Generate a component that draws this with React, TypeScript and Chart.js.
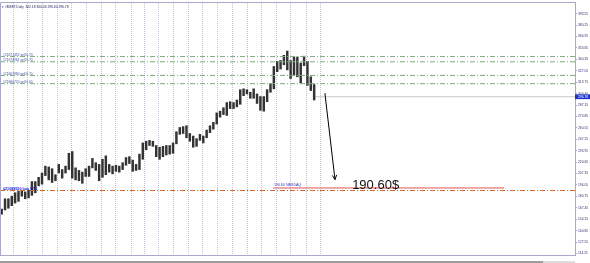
import React, { useEffect, useRef } from 'react';
import { Chart, registerables } from 'chart.js';

Chart.register(...registerables);

// ---------- data ----------
const SYMBOL_TITLE = '\u25BE #MSFT,Daily  302.18 304.06 296.60 296.78';
const FIRST_WEEK_ISO = '2020-04-06';

// weekly low / high, one entry per trading week from 6 Apr 2020 to 17 Jan 2022
const weeklyLow = [
  160, 165, 167, 170, 173, 175, 181, 178, 179, 182,
  185, 193, 195, 205, 200, 197, 199, 208, 202, 208,
  212, 202, 200, 199, 196, 204, 204, 214, 211, 199,
  203, 206, 209, 207, 210, 209, 212, 217, 219, 210,
  211, 212, 224, 235, 240, 239, 227, 224, 227, 229,
  230, 231, 242, 253, 254, 249, 245, 238, 239, 246,
  243, 249, 255, 259, 265, 273, 276, 275, 283, 283,
  285, 288, 298, 300, 295, 295, 289, 281, 280, 291,
  302, 306, 326, 329, 334, 328, 318, 322, 320, 313,
  333, 310, 304, 293,
];
const weeklyHigh = [
  166, 178, 178, 181, 185, 187, 187, 186, 188, 198,
  198, 203, 208, 216, 215, 213, 206, 218, 212, 216,
  231, 233, 214, 211, 209, 213, 216, 225, 220, 218,
  224, 228, 218, 216, 217, 216, 220, 226, 227, 223,
  218, 230, 243, 245, 246, 245, 240, 238, 239, 240,
  240, 243, 256, 261, 262, 263, 254, 251, 248, 253,
  251, 258, 263, 267, 278, 280, 284, 290, 291, 290,
  293, 305, 306, 305, 302, 306, 300, 297, 297, 305,
  312, 332, 338, 339, 345, 350, 339, 343, 343, 336,
  344, 338, 320, 311,
];

const dateTickISO = [
  '2020-04-09', '2020-05-27', '2020-07-13', '2020-08-26', '2020-10-12',
  '2020-11-25', '2021-01-14', '2021-03-03', '2021-04-19', '2021-06-03',
  '2021-07-20', '2021-09-02', '2021-10-19', '2021-12-03', '2022-01-21',
];
const dateTickLabels = [
  '9 Apr 2020', '27 May 2020', '13 Jul 2020', '26 Aug 2020', '12 Oct 2020',
  '25 Nov 2020', '14 Jan 2021', '3 Mar 2021', '19 Apr 2021', '3 Jun 2021',
  '20 Jul 2021', '2 Sep 2021', '19 Oct 2021', '3 Dec 2021', '21 Jan 2022',
];
const monthGridISO = [
  '2020-05-01', '2020-06-01', '2020-07-01', '2020-08-03', '2020-09-01', '2020-10-01',
  '2020-11-02', '2020-12-01', '2021-01-04', '2021-02-01', '2021-03-01', '2021-04-01',
  '2021-05-03', '2021-06-01', '2021-07-01', '2021-08-02', '2021-09-01', '2021-10-01',
  '2021-11-01', '2021-12-01', '2022-01-03', '2022-02-01',
];
const priceTicks = [
  393.55, 380.25, 366.95, 353.65, 340.35, 327.05, 313.75, 300.45, 287.15, 273.85, 260.55,
  247.25, 233.95, 220.65, 207.35, 194.05, 180.75, 167.45, 154.15, 140.85, 127.55, 114.25,
];

const LAST_PRICE = 296.78;
const TARGET_PRICE = 190.6;
const BUY_LEVEL = 187.6;
const sellLevels = [343.55, 337.45, 321.6, 312.0];
const sellLabels = ['#21677492 sell 0.70', '#21674961 sell 0.70', '#21667980 sell 0.70', '#21666720 sell 0.60'];
const BUY_LABEL = '#21089550 buy 0.50';
const TARGET_LABEL = '190.60 NASDAQ';
const TARGET_TEXT = '190.60$';

// annotation anchors (in week / price units)
const TARGET_LINE_WEEKS = [81.25, 150];
const TARGET_TEXT_WEEK = 104.8;
const BID_LINE_START_WEEK = 93.8;
const arrowFrom = { week: 96.7, price: 300.8 };
const arrowTo = { week: 99.7, price: 200.3 };

const X_MIN = 0;
const X_MAX = 171.13;
const Y_MIN = 112.55;
const Y_MAX = 405.93;

const FONT = "'Liberation Sans', Arial, sans-serif";
const TINY = 3.3;

function weekPos(iso: string): number {
  const [by, bm, bd] = FIRST_WEEK_ISO.split('-').map(Number);
  const [y, m, d] = iso.split('-').map(Number);
  const days = Math.round((Date.UTC(y, m - 1, d) - Date.UTC(by, bm - 1, bd)) / 86400000);
  const wk = Math.floor(days / 7);
  const dow = days - wk * 7;
  return wk + Math.min(dow, 4) / 5;
}

const decor = {
  id: 'decor',
  beforeDatasetsDraw(chart: any) {
    const { ctx, chartArea: a, scales } = chart;
    const x = scales.x;
    ctx.save();
    ctx.strokeStyle = '#c2c2d2';
    ctx.lineWidth = 1;
    ctx.setLineDash([1, 1]);
    monthGridISO.forEach((d) => {
      const px = Math.round(x.getPixelForValue(weekPos(d))) + 0.5;
      ctx.beginPath();
      ctx.moveTo(px, a.top);
      ctx.lineTo(px, a.bottom);
      ctx.stroke();
    });
    ctx.restore();
  },
  afterDatasetsDraw(chart: any) {
    const { ctx, chartArea: a, scales } = chart;
    const x = scales.x;
    const y = scales.y;
    ctx.save();
    // arrow head
    const meta = chart.getDatasetMeta(chart.data.datasets.length - 1);
    const p0 = meta.data[0];
    const p1 = meta.data[1];
    if (p0 && p1) {
      const ang = Math.atan2(p1.y - p0.y, p1.x - p0.x);
      const L = 5;
      ctx.strokeStyle = '#000';
      ctx.lineWidth = 1;
      ctx.beginPath();
      ctx.moveTo(p1.x - L * Math.cos(ang - 0.45), p1.y - L * Math.sin(ang - 0.45));
      ctx.lineTo(p1.x, p1.y);
      ctx.lineTo(p1.x - L * Math.cos(ang + 0.45), p1.y - L * Math.sin(ang + 0.45));
      ctx.stroke();
    }
    // title
    ctx.fillStyle = '#202060';
    ctx.font = `${TINY}px ${FONT}`;
    ctx.textBaseline = 'alphabetic';
    ctx.textAlign = 'left';
    ctx.fillText(SYMBOL_TITLE, a.left + 2, a.top + 5);
    // order labels
    ctx.fillStyle = '#4050a8';
    sellLevels.forEach((p, i) => {
      ctx.fillText(sellLabels[i], a.left + 3, y.getPixelForValue(p) - 0.5);
    });
    ctx.font = `bold ${TINY + 0.4}px ${FONT}`;
    ctx.fillStyle = '#2020c8';
    ctx.fillText(BUY_LABEL, a.left + 3, y.getPixelForValue(BUY_LEVEL) - 0.5);
    ctx.font = `${TINY + 0.3}px ${FONT}`;
    ctx.fillStyle = '#3040b0';
    ctx.fillText(TARGET_LABEL, x.getPixelForValue(TARGET_LINE_WEEKS[0]) + 1, y.getPixelForValue(TARGET_PRICE) - 1.5);
    // big text
    ctx.fillStyle = '#111';
    ctx.font = `13px ${FONT}`;
    ctx.fillText(TARGET_TEXT, x.getPixelForValue(TARGET_TEXT_WEEK), y.getPixelForValue(TARGET_PRICE) + 1);
    ctx.restore();
  },
  afterDraw(chart: any) {
    const { ctx, chartArea: a, scales, width } = chart;
    const y = scales.y;
    ctx.save();
    // frame
    ctx.strokeStyle = '#a8a8c8';
    ctx.lineWidth = 1;
    ctx.beginPath();
    ctx.moveTo(a.left + 0.5, a.bottom);
    ctx.lineTo(a.left + 0.5, a.top - 0.5);
    ctx.lineTo(a.right, a.top - 0.5);
    ctx.stroke();
    // price box
    const py = y.getPixelForValue(LAST_PRICE);
    ctx.fillStyle = '#2233cc';
    ctx.fillRect(a.right, py - 2.4, width - a.right, 4.8);
    ctx.fillStyle = '#fff';
    ctx.font = `${TINY}px ${FONT}`;
    ctx.textBaseline = 'middle';
    ctx.fillText(LAST_PRICE.toFixed(2), a.right + 3, py + 0.2);
    // bottom strip
    ctx.fillStyle = '#9c9c9c';
    ctx.fillRect(0, chart.height - 2, 543, 2);
    ctx.fillStyle = '#dcdcdc';
    ctx.fillRect(543, chart.height - 2, a.right - 543, 2);
    ctx.restore();
  },
};

function hLine(price: number, x0: number, x1: number) {
  return [{ x: x0, y: price }, { x: x1, y: price }];
}

export default function App() {
  const ref = useRef<HTMLCanvasElement>(null);
  useEffect(() => {
    if (!ref.current) return;
    const bars = weeklyLow.map((lo, i) => ({ x: i + 0.5, y: [lo, weeklyHigh[i]] }));
    const lineBase = { type: 'line', pointRadius: 0, borderWidth: 1, fill: false, tension: 0 };
    const datasets: any[] = [
      { type: 'bar', data: bars, backgroundColor: '#333333', borderWidth: 0, barThickness: 1.8, order: 3 },
      { ...lineBase, data: hLine(LAST_PRICE, BID_LINE_START_WEEK, X_MAX), borderColor: '#c8c8c8', order: 4 },
      ...sellLevels.map((p) => ({
        ...lineBase, data: hLine(p, X_MIN, X_MAX), borderColor: '#7ea87e', borderDash: [5, 2, 1, 2], order: 1,
      })),
      { ...lineBase, data: hLine(BUY_LEVEL, X_MIN, X_MAX), borderColor: '#cf6a33', borderDash: [5, 2, 1, 2], order: 1 },
      { ...lineBase, data: hLine(TARGET_PRICE, TARGET_LINE_WEEKS[0], TARGET_LINE_WEEKS[1]), borderColor: '#e05454', order: 1 },
      { ...lineBase, data: [{ x: arrowFrom.week, y: arrowFrom.price }, { x: arrowTo.week, y: arrowTo.price }], borderColor: '#000', order: 0 },
    ];
    const chart = new Chart(ref.current, {
      type: 'bar',
      data: { datasets },
      options: {
        animation: false,
        responsive: false,
        devicePixelRatio: 1,
        layout: { padding: { top: 1, left: 0, right: 0, bottom: 0 } },
        plugins: { legend: { display: false }, tooltip: { enabled: false } },
        scales: {
          x: {
            type: 'linear',
            min: X_MIN,
            max: X_MAX,
            offset: false,
            grid: { display: false },
            border: { display: true, color: '#a8a8c8' },
            ticks: {
              autoSkip: false,
              maxRotation: 0,
              align: 'start',
              padding: 1,
              color: '#303070',
              font: { size: TINY, family: FONT },
              callback: (_v: any, i: number) => dateTickLabels[i],
            },
            afterBuildTicks: (s: any) => { s.ticks = dateTickISO.map((d) => ({ value: weekPos(d) })); },
            afterFit: (s: any) => { s.height = 8; },
          },
          y: {
            type: 'linear',
            position: 'right',
            min: Y_MIN,
            max: Y_MAX,
            grid: { display: true, drawOnChartArea: false, drawTicks: true, tickLength: 2, color: '#a8a8c8' },
            border: { display: true, color: '#a8a8c8' },
            ticks: {
              autoSkip: false,
              padding: 1,
              color: '#303070',
              font: { size: TINY, family: FONT },
              callback: (v: any) => Number(v).toFixed(2),
            },
            afterBuildTicks: (s: any) => { s.ticks = priceTicks.map((v) => ({ value: v })); },
            afterFit: (s: any) => { s.width = 15; },
          },
        },
      },
      plugins: [decor],
    } as any);
    return () => chart.destroy();
  }, []);
  return (
    <canvas
      ref={ref}
      width={590}
      height={263}
      style={{ position: 'fixed', left: 0, top: 0, width: 590, height: 263, display: 'block', background: '#fff' }}
    />
  );
}
